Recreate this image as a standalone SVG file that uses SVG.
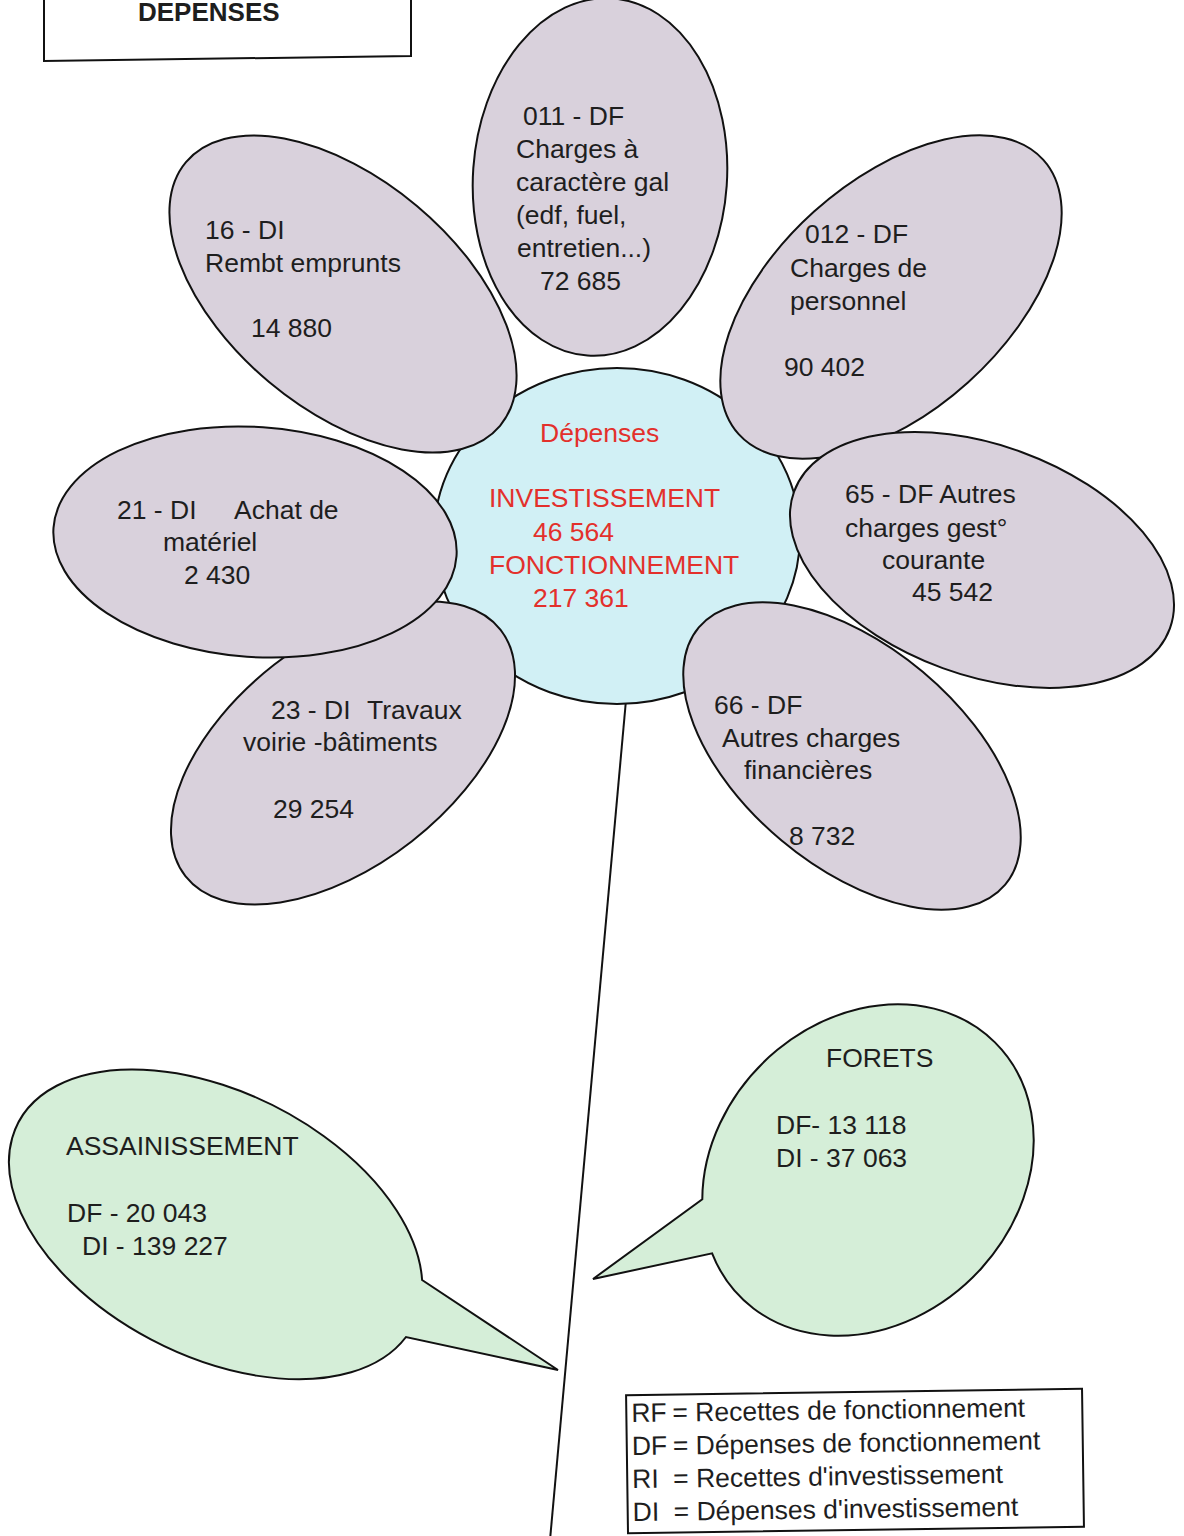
<svg xmlns="http://www.w3.org/2000/svg" width="1184" height="1536" viewBox="0 0 1184 1536">
<style>
.t{font-family:"Liberation Sans",Arial,sans-serif;font-size:26.5px;fill:#1e1e1e}
.r{fill:#e3302c}
.petal{fill:#d9d1dc;stroke:#111;stroke-width:2}
.bubble{fill:#d5eed8;stroke:#111;stroke-width:2}
.ln{fill:none;stroke:#111;stroke-width:2}
</style>
<rect width="1184" height="1536" fill="#ffffff"/>
<g id="title">
<polyline class="ln" points="44,-2 44,61 411,56 411,-2"/>
<text class="t" x="138" y="21" style="font-weight:bold;font-size:26px">DEPENSES</text>
</g>
<g id="connectors">
<line class="ln" x1="628" y1="678" x2="550" y2="1540"/>
</g>
<g id="center">
<ellipse cx="617" cy="536" rx="183" ry="168" fill="#d1f0f5" stroke="#111" stroke-width="2"/>
</g>
<g id="petal-011">
<ellipse class="petal" cx="600" cy="177" rx="127" ry="179" transform="rotate(4 600 177)"/>
<text class="t" x="523" y="125">011 - DF</text>
<text class="t" x="516" y="158">Charges à</text>
<text class="t" x="516" y="191">caractère gal</text>
<text class="t" x="516" y="224">(edf, fuel,</text>
<text class="t" x="517" y="257">entretien...)</text>
<text class="t" x="540" y="290">72 685</text>
</g>
<g id="petal-012">
<ellipse class="petal" cx="891" cy="297" rx="205" ry="115" transform="rotate(-42 891 297)"/>
<text class="t" x="805" y="243">012 - DF</text>
<text class="t" x="790" y="277">Charges de</text>
<text class="t" x="790" y="310">personnel</text>
<text class="t" x="784" y="376">90 402</text>
</g>
<g id="petal-65">
<ellipse class="petal" cx="982" cy="560" rx="200" ry="115" transform="rotate(20 982 560)"/>
<text class="t" x="845" y="503">65 - DF Autres</text>
<text class="t" x="845" y="537">charges gest°</text>
<text class="t" x="882" y="569">courante</text>
<text class="t" x="912" y="601">45 542</text>
</g>
<g id="petal-66">
<ellipse class="petal" cx="852" cy="756" rx="200" ry="110" transform="rotate(40 852 756)"/>
<text class="t" x="714" y="714">66 - DF</text>
<text class="t" x="722" y="747">Autres charges</text>
<text class="t" x="744" y="779">financières</text>
<text class="t" x="789" y="845">8 732</text>
</g>
<g id="petal-23">
<ellipse class="petal" cx="343" cy="753" rx="200" ry="112" transform="rotate(-38 343 753)"/>
<text class="t" x="271" y="719">23 - DI</text>
<text class="t" x="367" y="719">Travaux</text>
<text class="t" x="243" y="751">voirie -bâtiments</text>
<text class="t" x="273" y="818">29 254</text>
</g>
<g id="petal-21">
<ellipse class="petal" cx="255" cy="542" rx="202" ry="115" transform="rotate(4 255 542)"/>
<text class="t" x="117" y="519">21 - DI</text>
<text class="t" x="234" y="519">Achat de</text>
<text class="t" x="163" y="551">matériel</text>
<text class="t" x="184" y="584">2 430</text>
</g>
<g id="petal-16">
<ellipse class="petal" cx="343" cy="294" rx="205" ry="115" transform="rotate(40 343 294)"/>
<text class="t" x="205" y="239">16 - DI</text>
<text class="t" x="205" y="272">Rembt emprunts</text>
<text class="t" x="251" y="337">14 880</text>
</g>
<g id="center-text">
<text class="t r" x="540" y="442">Dépenses</text>
<text class="t r" x="489" y="507">INVESTISSEMENT</text>
<text class="t r" x="533" y="541">46 564</text>
<text class="t r" x="489" y="574">FONCTIONNEMENT</text>
<text class="t r" x="533" y="607">217 361</text>
</g>
<g id="assainissement">
<path class="bubble" d="M422.1 1280 A222 132 27 1 0 406 1337 L558 1370 Z"/>
<text class="t" x="66" y="1155">ASSAINISSEMENT</text>
<text class="t" x="67" y="1222">DF - 20 043</text>
<text class="t" x="82" y="1255">DI - 139 227</text>
</g>
<g id="forets">
<path class="bubble" d="M702.3 1199.3 A180 150 -45 1 1 712.1 1253.3 L593 1279 Z"/>
<text class="t" x="826" y="1067">FORETS</text>
<text class="t" x="776" y="1134">DF- 13 118</text>
<text class="t" x="776" y="1167">DI - 37 063</text>
</g>
<g id="legend" transform="rotate(-0.8 855 1460)">
<rect x="627" y="1392" width="456" height="138" fill="#ffffff" stroke="#111" stroke-width="2"/>
<text class="t" x="632" y="1419">RF</text><text class="t" x="673" y="1419">= Recettes de fonctionnement</text>
<text class="t" x="632" y="1452">DF</text><text class="t" x="673" y="1452">= Dépenses de fonctionnement</text>
<text class="t" x="632" y="1485">RI</text><text class="t" x="673" y="1485">= Recettes d'investissement</text>
<text class="t" x="632" y="1518">DI</text><text class="t" x="673" y="1518">= Dépenses d'investissement</text>
</g>
</svg>
